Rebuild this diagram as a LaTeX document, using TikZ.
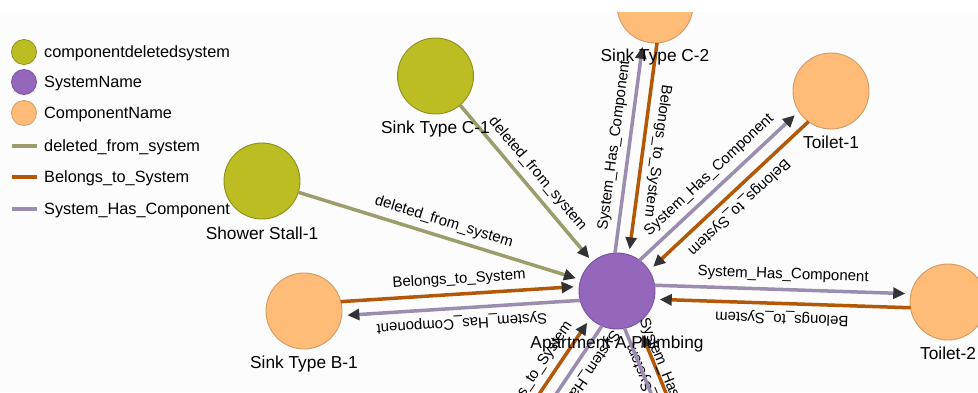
\documentclass[tikz,border=0pt]{standalone}
\usepackage{fontspec}
\setmainfont{Liberation Sans}
\usetikzlibrary{arrows.meta,calc}

% node and link colours
\definecolor{olivenode}{HTML}{BCBD22}
\definecolor{olivestroke}{HTML}{8E8F1A}
\definecolor{sysnode}{HTML}{9467BD}
\definecolor{sysstroke}{HTML}{7A50A0}
\definecolor{compnode}{HTML}{FFBB78}
\definecolor{compstroke}{HTML}{D39A62}
\definecolor{delcol}{HTML}{9C9D6A}
\definecolor{belcol}{HTML}{B35806}
\definecolor{hascol}{HTML}{9A8DB0}
\definecolor{tipcol}{HTML}{333333}
\definecolor{bgcol}{HTML}{FCFCFC}

\tikzset{
  vert/.style={circle, inner sep=0pt, minimum size=76pt, line width=0.9pt},
  deleted/.style={vert, fill=olivenode, draw=olivestroke},
  system/.style={vert, fill=sysnode, draw=sysstroke},
  component/.style={vert, fill=compnode, draw=compstroke},
  link/.style={line width=3.5pt, shorten <=37.3pt, shorten >=43pt,
    -{Triangle[length=12pt,width=11pt,color=tipcol]}},
  dellink/.style={link, draw=delcol},
  bellink/.style={link, draw=belcol},
  haslink/.style={link, draw=hascol},
  elabel/.style={font=\fontsize{15}{18}\selectfont, inner sep=2pt, pos=0.5,
    sloped, allow upside down, above=4pt},
  nlabel/.style={font=\fontsize{17.3}{20}\selectfont, anchor=base, inner sep=0pt},
  lgtext/.style={font=\fontsize{16.3}{19}\selectfont, anchor=base west, inner sep=0pt},
  lgline/.style={line width=4.5pt},
}

\begin{document}
\begin{tikzpicture}[x=1pt,y=-1pt]
\useasboundingbox (0,0) rectangle (978,392);
\fill[white] (0,0) rectangle (978,392);
\fill[bgcol] (0,12) rectangle (978,392);
\begin{scope}
\clip (0,12) rectangle (978,392);

% vertices
\node[system] (ap) at (617,291) {};
\node[component] (sb1) at (304,311) {};
\node[component] (toi2) at (948,302) {};
\node[component] (toi1) at (831,91) {};
\node[component] (sc2) at (655,5) {};
\node[deleted] (sc1) at (435.5,76) {};
\node[deleted] (shw) at (262,181) {};
\coordinate (bl) at (483,490);
\coordinate (br) at (708,515);

% deleted_from_system links
\draw[dellink] (sc1.center) -- (ap.center) node[elabel] {deleted\_from\_system};
\draw[dellink] (shw.center) -- (ap.center) node[elabel] {deleted\_from\_system};

% paired links, each one shifted to the left of its own direction
\draw[bellink] ($(sb1.center)!7pt!90:(ap.center)$) -- ($(ap.center)!7pt!-90:(sb1.center)$)
  node[elabel] {Belongs\_to\_System};
\draw[haslink] ($(ap.center)!7pt!90:(sb1.center)$) -- ($(sb1.center)!7pt!-90:(ap.center)$)
  node[elabel] {System\_Has\_Component};

\draw[bellink] ($(toi2.center)!7pt!90:(ap.center)$) -- ($(ap.center)!7pt!-90:(toi2.center)$)
  node[elabel] {Belongs\_to\_System};
\draw[haslink] ($(ap.center)!7pt!90:(toi2.center)$) -- ($(toi2.center)!7pt!-90:(ap.center)$)
  node[elabel] {System\_Has\_Component};

\draw[bellink] ($(toi1.center)!7pt!90:(ap.center)$) -- ($(ap.center)!7pt!-90:(toi1.center)$)
  node[elabel] {Belongs\_to\_System};
\draw[haslink] ($(ap.center)!7pt!90:(toi1.center)$) -- ($(toi1.center)!7pt!-90:(ap.center)$)
  node[elabel] {System\_Has\_Component};

\draw[bellink] ($(sc2.center)!7pt!90:(ap.center)$) -- ($(ap.center)!7pt!-90:(sc2.center)$)
  node[elabel] {Belongs\_to\_System};
\draw[haslink] ($(ap.center)!7pt!90:(sc2.center)$) -- ($(sc2.center)!7pt!-90:(ap.center)$)
  node[elabel] {System\_Has\_Component};

\draw[bellink] ($(bl)!7pt!90:(ap.center)$) -- ($(ap.center)!7pt!-90:(bl)$)
  node[elabel] {Belongs\_to\_System};
\draw[haslink] ($(ap.center)!7pt!90:(bl)$) -- ($(bl)!7pt!-90:(ap.center)$)
  node[elabel] {System\_Has\_Component};

\draw[bellink, shorten >=50pt] ($(br)!7pt!-90:(ap.center)$) -- ($(ap.center)!7pt!90:(br)$)
  node[elabel] {Belongs\_to\_System};
\draw[haslink] ($(ap.center)!7pt!-90:(br)$) -- ($(br)!7pt!90:(ap.center)$)
  node[elabel, above=6pt] {System\_Has\_Component};

% vertex captions
\node[nlabel] (apl) at (617,348) {Apartment A Plumbing};
\node[nlabel] (sb1l) at (304,368) {Sink Type B-1};
\node[nlabel] (toi2l) at (948,359) {Toilet-2};
\node[nlabel] (toi1l) at (831,148) {Toilet-1};
\node[nlabel] (sc2l) at (655,61.5) {Sink Type C-2};
\node[nlabel] (sc1l) at (435.5,133.5) {Sink Type C-1};
\node[nlabel] (shwl) at (262,239) {Shower Stall-1};

% legend
\node[deleted, minimum size=25pt, line width=0.8pt] (lgdel) at (24,52) {};
\node[lgtext] (lgdelt) at (44,57.8) {componentdeletedsystem};
\node[system, minimum size=25pt, line width=0.8pt] (lgsys) at (24,82) {};
\node[lgtext] (lgsyst) at (44,87.8) {SystemName};
\node[component, minimum size=25pt, line width=0.8pt] (lgcomp) at (24,113) {};
\node[lgtext] (lgcompt) at (44,118.8) {ComponentName};
\coordinate (lgd0) at (12,146); \coordinate (lgd1) at (37,146);
\draw[lgline, delcol] (lgd0) -- (lgd1);
\node[lgtext] (lgdlt) at (44,151.8) {deleted\_from\_system};
\coordinate (lgb0) at (12,177); \coordinate (lgb1) at (37,177);
\draw[lgline, belcol] (lgb0) -- (lgb1);
\node[lgtext] (lgblt) at (44,182.8) {Belongs\_to\_System};
\coordinate (lgh0) at (12,209); \coordinate (lgh1) at (37,209);
\draw[lgline, hascol] (lgh0) -- (lgh1);
\node[lgtext] (lghlt) at (44,214.8) {System\_Has\_Component};
\end{scope}
\end{tikzpicture}
\end{document}
